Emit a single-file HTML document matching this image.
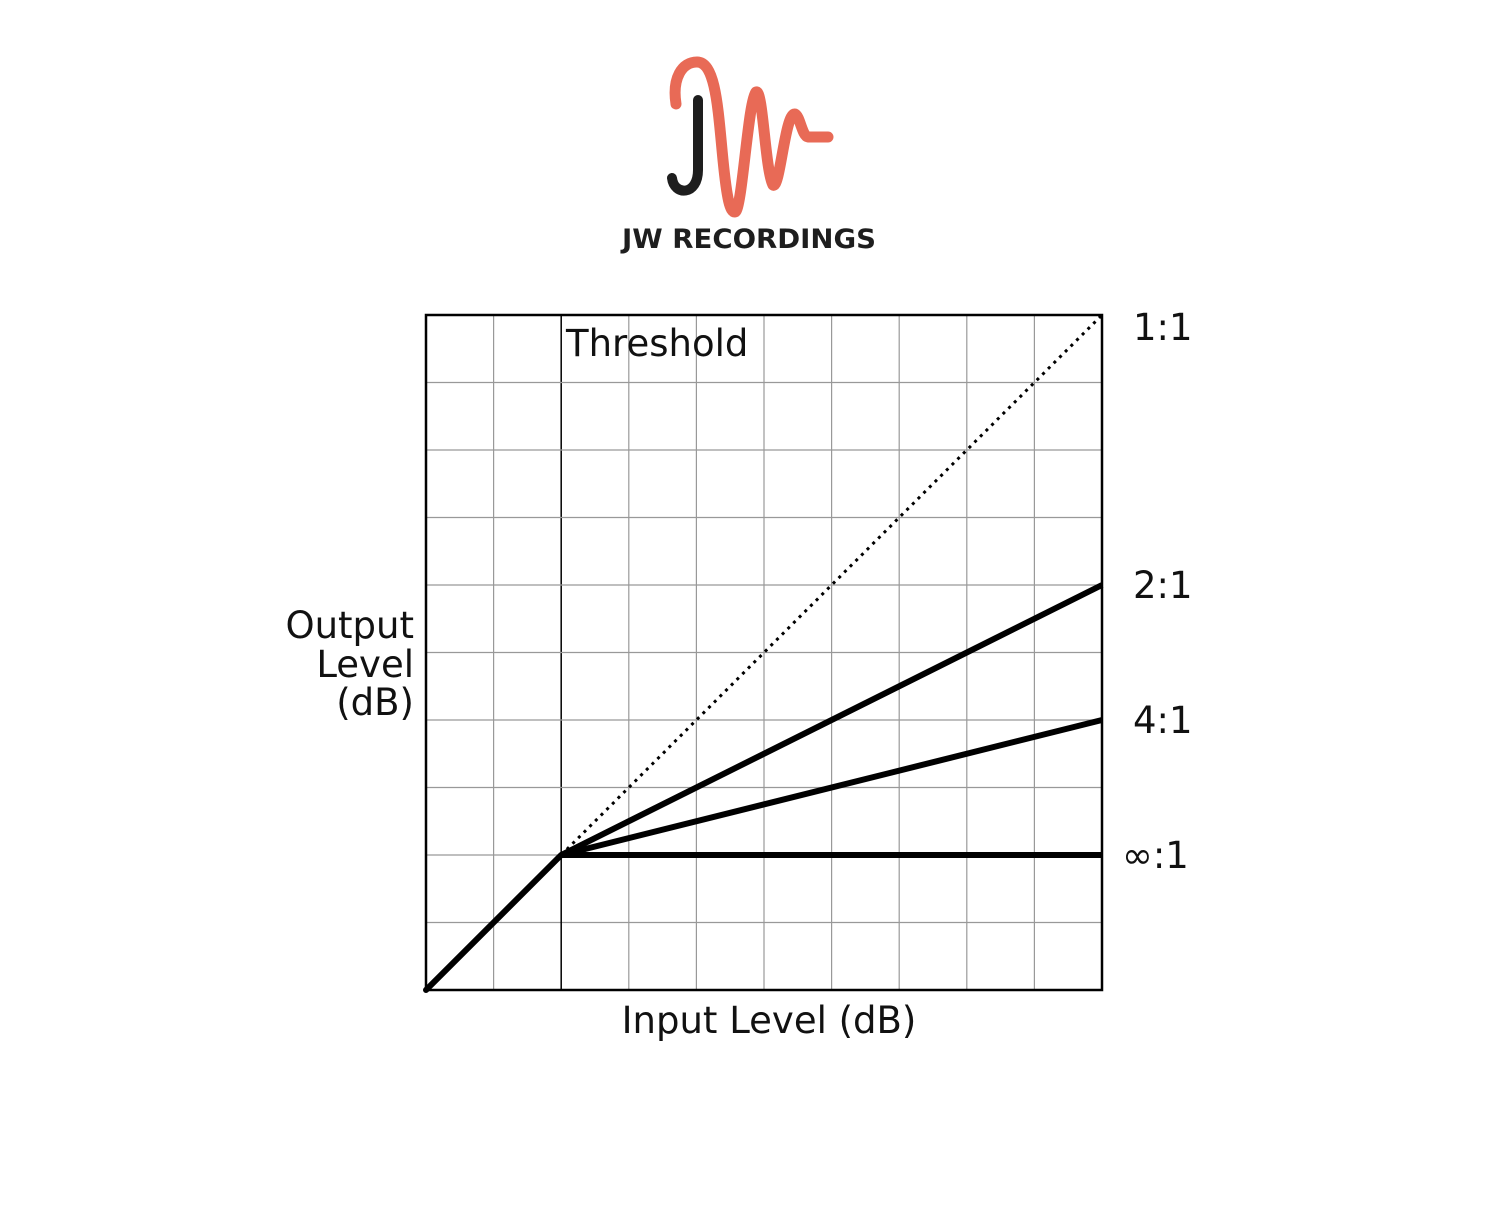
<!DOCTYPE html>
<html><head><meta charset="utf-8"><style>
html,body{margin:0;padding:0;background:#fff;}
body{width:1500px;height:1200px;overflow:hidden;}
text{font-family:"DejaVu Sans","Liberation Sans",sans-serif;}
</style></head><body>
<svg id="chart" width="1500" height="1200" viewBox="0 0 1500 1200" xmlns="http://www.w3.org/2000/svg">
<g>
<path d="M676,104 C672,78 682,62 697,62 C716,62 718,110 723,160 C727,200 730,212 735,212 C742,212 748,100 756,92 C763,88 765,170 773,185 C780,190 785,112 795,114 C800,116 802,136 808,137 L828,137" fill="none" stroke="#e86a56" stroke-width="11" stroke-linecap="round" stroke-linejoin="round"/>
<path d="M698,100 L698,170 C698,196 674,196 672,178" fill="none" stroke="#1e1e1e" stroke-width="10" stroke-linecap="round"/>
<text x="749" y="248" text-anchor="middle" font-size="27" font-weight="bold" fill="#1e1e1e" textLength="254" lengthAdjust="spacingAndGlyphs">JW RECORDINGS</text>
</g>
<g id="grid"></g>
<g id="marks"></g>
<rect x="426" y="315" width="676" height="675" fill="none" stroke="#000" stroke-width="2.5"/>
<text x="566" y="356" font-size="37" fill="#111">Threshold</text>
<text x="769" y="1033" font-size="37" fill="#111" text-anchor="middle">Input Level (dB)</text>
<g font-size="37" fill="#111" text-anchor="end">
<text x="414" y="638">Output</text><text x="414" y="677">Level</text><text x="414" y="715">(dB)</text>
</g>
<g id="labels" font-size="37" fill="#111"></g>
</svg>
<script>
const gridCount = 10;
const thresholdIn = 2;
const thresholdOut = 2;
const ratioLabels = ["1:1","2:1","4:1","∞:1"];
const ratioEndValues = [10, 6, 4, 2];
const ratioNames = ["ratio-1-1","ratio-2-1","ratio-4-1","ratio-inf-1"];
const xMax = 10;

const X0=426, X1=1102, Y0=990, Y1=315;
const sx = v => X0 + (X1-X0)*v/xMax;
const sy = v => Y0 - (Y0-Y1)*v/xMax;
const NS="http://www.w3.org/2000/svg";
const grid=document.getElementById('grid');
for(let i=1;i<gridCount;i++){
  const v=document.createElementNS(NS,'line');
  
  
  v.setAttribute('x1',sx(i));v.setAttribute('x2',sx(i));v.setAttribute('y1',Y1);v.setAttribute('y2',Y0);
  v.setAttribute('stroke',i===thresholdIn?'#000':'#999');v.setAttribute('stroke-width',i===thresholdIn?1.5:1.2);
  grid.appendChild(v);
  const h=document.createElementNS(NS,'line');
  
  
  h.setAttribute('y1',sy(i));h.setAttribute('y2',sy(i));h.setAttribute('x1',X0);h.setAttribute('x2',X1);
  h.setAttribute('stroke','#999');h.setAttribute('stroke-width',1.2);
  grid.appendChild(h);
}
const marks=document.getElementById('marks');
const base=document.createElementNS(NS,'line');


base.setAttribute('x1',sx(0));base.setAttribute('y1',sy(0));base.setAttribute('x2',sx(thresholdIn));base.setAttribute('y2',sy(thresholdOut));
base.setAttribute('stroke','#000');base.setAttribute('stroke-width',6);base.setAttribute('stroke-linecap','round');
marks.appendChild(base);
const labels=document.getElementById('labels');
ratioEndValues.forEach((v,i)=>{
  const l=document.createElementNS(NS,'line');
  
  
  l.setAttribute('x1',sx(thresholdIn));l.setAttribute('y1',sy(thresholdOut));
  l.setAttribute('x2',sx(xMax));l.setAttribute('y2',sy(v));
  l.setAttribute('stroke','#000');
  if(i===0){l.setAttribute('stroke-width',3);l.setAttribute('stroke-dasharray','3,5');}
  else {l.setAttribute('stroke-width',6);}
  marks.appendChild(l);
  const t=document.createElementNS(NS,'text');
  
  
  t.setAttribute('x',ratioLabels[i].startsWith('∞')?1122:1133);
  t.setAttribute('y',sy(v)+(i===0?25:13));
  t.textContent=ratioLabels[i];
  labels.appendChild(t);
});
</script>
</body></html>
